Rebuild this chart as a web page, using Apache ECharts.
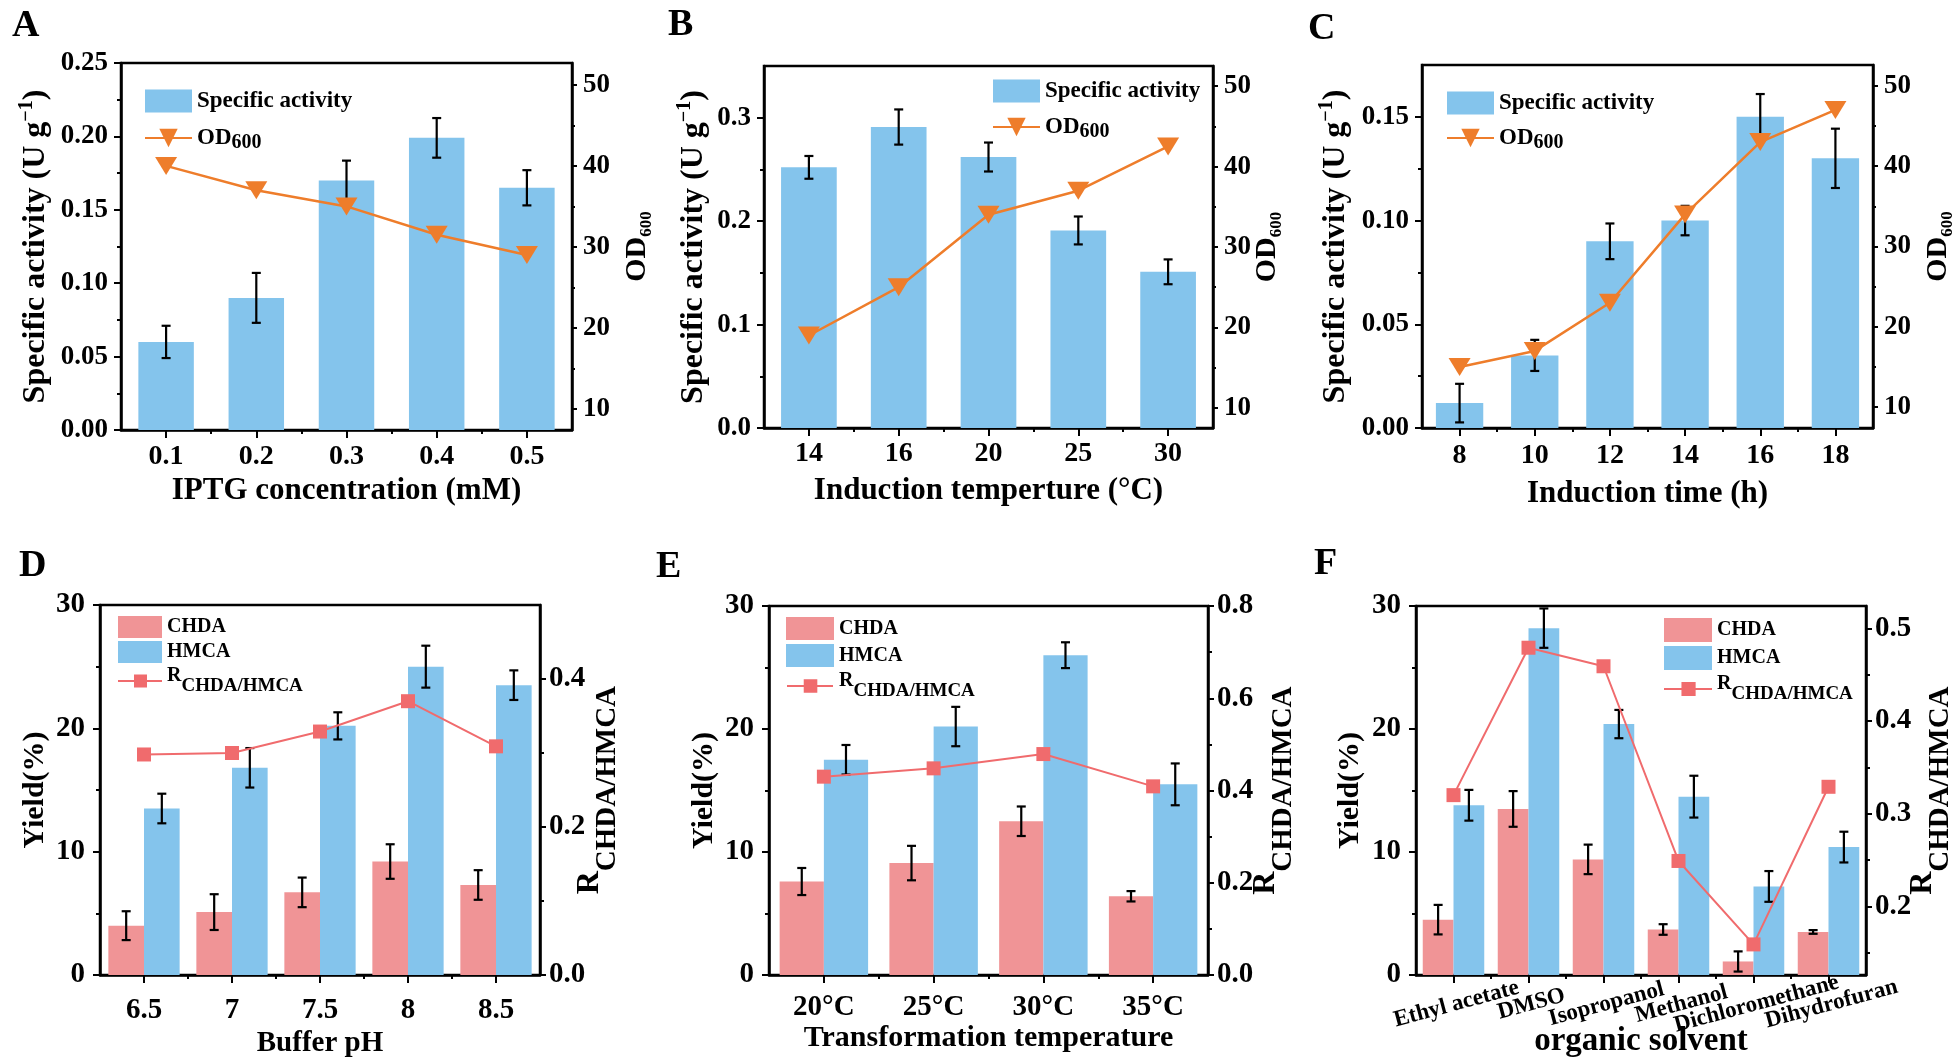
<!DOCTYPE html>
<html>
<head>
<meta charset="utf-8">
<script src="https://cdn.jsdelivr.net/npm/echarts@6/dist/echarts.min.js"></script>
<style>
  html, body { margin: 0; padding: 0; background: #fff; }
  #chart { width: 1959px; height: 1062px; }
</style>
</head>
<body>
<div id="chart"></div>
<script>
// ---- data ----
// A: IPTG concentration
const catsA = ['0.1', '0.2', '0.3', '0.4', '0.5'];
const actA = [0.060, 0.090, 0.170, 0.199, 0.165];
const actErrA = [0.011, 0.017, 0.0135, 0.0135, 0.012];
const odA = [40, 37, 35, 31.5, 29];
// B: induction temperature
const catsB = ['14', '16', '20', '25', '30'];
const actB = [0.252, 0.291, 0.262, 0.191, 0.151];
const actErrB = [0.011, 0.017, 0.014, 0.0135, 0.012];
const odB = [19, 25, 34, 37, 42.5];
// C: induction time
const catsC = ['8', '10', '12', '14', '16', '18'];
const actC = [0.012, 0.035, 0.090, 0.100, 0.150, 0.130];
const actErrC = [0.0093, 0.0075, 0.0086, 0.0071, 0.011, 0.0143];
const odC = [15, 17, 23, 34, 43, 47];
// D: buffer pH
const catsD = ['6.5', '7', '7.5', '8', '8.5'];
const chdaD = [4.0, 5.1, 6.7, 9.2, 7.3];
const chdaErrD = [1.17, 1.45, 1.2, 1.4, 1.2];
const hmcaD = [13.5, 16.8, 20.2, 25.0, 23.5];
const hmcaErrD = [1.2, 1.6, 1.1, 1.7, 1.2];
const ratioD = [0.298, 0.300, 0.329, 0.370, 0.309];
// E: transformation temperature
const catsE = ['20°C', '25°C', '30°C', '35°C'];
const chdaE = [7.6, 9.1, 12.5, 6.4];
const chdaErrE = [1.1, 1.4, 1.2, 0.42];
const hmcaE = [17.5, 20.2, 26.0, 15.5];
const hmcaErrE = [1.2, 1.6, 1.05, 1.7];
const ratioE = [0.430, 0.448, 0.479, 0.409];
// F: organic solvent
const catsF = ['Ethyl acetate', 'DMSO', 'Isopropanol', 'Methanol', 'Dichloromethane', 'Dihydrofuran'];
const chdaF = [4.5, 13.5, 9.4, 3.7, 1.1, 3.5];
const chdaErrF = [1.2, 1.45, 1.2, 0.43, 0.82, 0.15];
const hmcaF = [13.8, 28.2, 20.4, 14.5, 7.2, 10.4];
const hmcaErrF = [1.25, 1.6, 1.15, 1.7, 1.25, 1.25];
const ratioF = [0.320, 0.479, 0.459, 0.249, 0.159, 0.329];

// tick values
const ticksActA = [0, 0.05, 0.10, 0.15, 0.20, 0.25], minorActA = [0.025, 0.075, 0.125, 0.175, 0.225];
const ticksActB = [0, 0.1, 0.2, 0.3], minorActB = [0.05, 0.15, 0.25];
const ticksActC = [0, 0.05, 0.10, 0.15], minorActC = [0.025, 0.075, 0.125];
const ticksOD = [10, 20, 30, 40, 50], minorOD = [15, 25, 35, 45];
const ticksYield = [0, 10, 20, 30], minorYield = [5, 15, 25];
const ticksRD = [0, 0.2, 0.4], minorRD = [0.1, 0.3];
const ticksRE = [0, 0.2, 0.4, 0.6, 0.8], minorRE = [0.1, 0.3, 0.5, 0.7];
const ticksRF = [0.2, 0.3, 0.4, 0.5], minorRF = [0.15, 0.25, 0.35, 0.45];

const FONT = '"Liberation Serif", "Times New Roman", serif';
const TXT = { fontFamily: FONT, fontWeight: 'bold', color: '#000' };
const BLUE = '#84C4EC', PINK = '#F09496', ORANGE = '#EE7D2B', RED = '#F06B6D';
const AXLINE = { color: '#000', width: 2.5 };
const TICK = { color: '#000', width: 2 };

const grids = [], xAxes = [], yAxes = [], series = [], legends = [];

function addGrid(box) {
  grids.push({
    left: box[0], top: box[1], width: box[2], height: box[3],
    show: true, borderColor: '#000', borderWidth: 2.5, backgroundColor: 'rgba(0,0,0,0)',
    containLabel: false, outerBoundsMode: 'none'
  });
  return grids.length - 1;
}

function addCatAxis(g, cats, o) {
  xAxes.push({
    type: 'category', gridIndex: g, position: 'bottom', data: cats,
    axisLine: { show: true, onZero: false, lineStyle: AXLINE },
    axisTick: { show: true, alignWithLabel: true, interval: 0, length: 8, lineStyle: TICK },
    axisLabel: Object.assign({ interval: 0, margin: o.margin, fontSize: o.fontSize }, TXT, o.label || {}),
    splitLine: { show: false },
    name: o.name, nameLocation: 'middle', nameGap: o.nameGap, nameMoveOverlap: false,
    nameTextStyle: Object.assign({ fontSize: o.nameSize }, TXT)
  });
  const idx = xAxes.length - 1;
  // minor ticks at category boundaries
  const bounds = [];
  for (let i = 1; i < cats.length; i++) bounds.push(i);
  xAxes.push({
    type: 'value', gridIndex: g, position: 'bottom', min: 0, max: cats.length,
    axisLine: { show: false, onZero: false }, axisLabel: { show: false }, splitLine: { show: false },
    axisTick: { show: true, length: 4, customValues: bounds, lineStyle: TICK }
  });
  return idx;
}

function addValAxis(g, pos, o) {
  yAxes.push({
    type: 'value', gridIndex: g, position: pos, min: o.min, max: o.max,
    axisLine: { show: true, onZero: false, lineStyle: AXLINE },
    axisTick: { show: true, length: o.tick, customValues: o.major, lineStyle: TICK },
    axisLabel: Object.assign({ customValues: o.major, formatter: v => v.toFixed(o.dec), margin: o.margin, fontSize: o.fontSize }, TXT),
    splitLine: { show: false },
    name: o.name, nameLocation: 'middle', nameGap: o.nameGap, nameRotate: 90, nameMoveOverlap: false,
    nameTextStyle: Object.assign({ fontSize: 29, rich: o.rich }, TXT)
  });
  const idx = yAxes.length - 1;
  yAxes.push({
    type: 'value', gridIndex: g, position: pos, min: o.min, max: o.max,
    axisLine: { show: false, onZero: false }, axisLabel: { show: false }, splitLine: { show: false },
    axisTick: { show: true, length: Math.round(o.tick * 0.6), customValues: o.minor, lineStyle: TICK }
  });
  return idx;
}

// error bars drawn through the axes; k = bar index in group, n = bars per category
function addErr(xi, yi, vals, errs, frac, n, k) {
  series.push({
    type: 'custom', xAxisIndex: xi, yAxisIndex: yi, z: 5, silent: true,
    data: vals.map((v, i) => [i, v, errs[i]]),
    renderItem: function (params, api) {
      const i = api.value(0), v = api.value(1), e = api.value(2);
      const band = api.size([1, 0])[0];
      const bw = band * frac / n;
      const dx = (k - (n - 1) / 2) * bw;
      const hi = api.coord([i, v + e]), lo = api.coord([i, v - e]);
      const x = hi[0] + dx, cap = 4.5;
      const st = { stroke: '#000', lineWidth: 2.2 };
      return {
        type: 'group', children: [
          { type: 'line', shape: { x1: x, y1: hi[1], x2: x, y2: lo[1] }, style: st },
          { type: 'line', shape: { x1: x - cap, y1: hi[1], x2: x + cap, y2: hi[1] }, style: st },
          { type: 'line', shape: { x1: x - cap, y1: lo[1], x2: x + cap, y2: lo[1] }, style: st }
        ]
      };
    }
  });
}

const nameSA = '{a|Specific activity (U g}{s|−1}{a|)}';
const richSA = {
  a: Object.assign({ fontSize: 32, lineHeight: 38 }, TXT),
  s: Object.assign({ fontSize: 20, lineHeight: 20, verticalAlign: 'top' }, TXT)
};
const nameOD = '{a|OD}{b|600}';
const richOD = {
  a: Object.assign({ fontSize: 30, lineHeight: 36 }, TXT),
  b: Object.assign({ fontSize: 17, lineHeight: 20, verticalAlign: 'bottom' }, TXT)
};
// spacer token h makes the line tall enough for a real subscript drop
const nameR = '{a|R}{b|CHDA/HMCA}{h| }';
const richR = {
  a: Object.assign({ fontSize: 32, lineHeight: 30, verticalAlign: 'top' }, TXT),
  b: Object.assign({ fontSize: 29, lineHeight: 29, verticalAlign: 'bottom' }, TXT),
  h: { fontSize: 1, lineHeight: 48 }
};
const nameY = '{a|Yield(%)}';
const richY = { a: Object.assign({ fontSize: 30, lineHeight: 34 }, TXT) };

// ---- top row: specific activity + OD600 ----
function activityPanel(box, cats, act, err, od, o) {
  const g = addGrid(box);
  const xi = addCatAxis(g, cats, { name: o.xname, nameGap: o.xgap, nameSize: 31, margin: o.xmargin, fontSize: 28 });
  const yl = addValAxis(g, 'left', { min: 0, max: o.lmax, major: o.lticks, minor: o.lminor, dec: o.ldec, margin: 13, tick: 7, name: nameSA, rich: richSA, nameGap: o.lgap, fontSize: 27 });
  const yr = addValAxis(g, 'right', { min: o.rmin, max: o.rmax, major: ticksOD, minor: minorOD, dec: 0, margin: 11, tick: 5, name: nameOD, rich: richOD, nameGap: o.rgap, fontSize: 27 });
  series.push({
    type: 'bar', name: 'Specific activity', xAxisIndex: xi, yAxisIndex: yl, data: act,
    barCategoryGap: ((1 - o.frac) * 100) + '%', itemStyle: { color: BLUE }, z: 2
  });
  addErr(xi, yl, act, err, o.frac, 1, 0);
  series.push({
    type: 'line', name: 'OD600', xAxisIndex: xi, yAxisIndex: yr, data: od,
    symbol: 'triangle', symbolRotate: 180, symbolSize: [22, 18],
    lineStyle: { color: ORANGE, width: 2.5 }, itemStyle: { color: ORANGE }, z: 10
  });
}

// ---- bottom row: yields + ratio ----
function yieldPanel(box, cats, chda, chdaErr, hmca, hmcaErr, ratio, o) {
  const g = addGrid(box);
  const xi = addCatAxis(g, cats, { name: o.xname, nameGap: o.xgap, nameSize: o.xns, margin: o.xmargin, fontSize: o.xfs || 29, label: o.xlabel });
  const yl = addValAxis(g, 'left', { min: 0, max: 30, major: ticksYield, minor: minorYield, dec: 0, margin: 15, tick: 7, name: nameY, rich: richY, nameGap: o.lgap, fontSize: 29 });
  const yr = addValAxis(g, 'right', { min: o.rmin, max: o.rmax, major: o.rticks, minor: o.rminor, dec: 1, margin: 9, tick: 6, name: nameR, rich: richR, nameGap: o.rgap, fontSize: 29 });
  const gap = ((1 - o.frac) * 100) + '%';
  series.push({ type: 'bar', name: 'CHDA', xAxisIndex: xi, yAxisIndex: yl, data: chda, barGap: '0%', barCategoryGap: gap, itemStyle: { color: PINK }, z: 2 });
  series.push({ type: 'bar', name: 'HMCA', xAxisIndex: xi, yAxisIndex: yl, data: hmca, barGap: '0%', barCategoryGap: gap, itemStyle: { color: BLUE }, z: 2 });
  addErr(xi, yl, chda, chdaErr, o.frac, 2, 0);
  addErr(xi, yl, hmca, hmcaErr, o.frac, 2, 1);
  series.push({
    type: 'line', name: 'RCHDA/HMCA', xAxisIndex: xi, yAxisIndex: yr, data: ratio,
    symbol: 'rect', symbolSize: 14,
    lineStyle: { color: RED, width: 2 }, itemStyle: { color: RED }, z: 10
  });
}

activityPanel([121, 63, 451, 367], catsA, actA, actErrA, odA, {
  xname: 'IPTG concentration (mM)', xgap: 45, xmargin: 13, lmax: 0.25, lticks: ticksActA, lminor: minorActA, ldec: 2,
  lgap: 66, rmin: 7.4, rmax: 52.7, rgap: 47, frac: 0.615
});
activityPanel([764, 66, 449, 362], catsB, actB, actErrB, odB, {
  xname: 'Induction temperture (°C)', xgap: 47, xmargin: 12, lmax: 0.35, lticks: ticksActB, lminor: minorActB, ldec: 1,
  lgap: 51, rmin: 7.5, rmax: 52.5, rgap: 36, frac: 0.62
});
activityPanel([1422, 65, 451, 363], catsC, actC, actErrC, odC, {
  xname: 'Induction time (h)', xgap: 50, xmargin: 14, lmax: 0.175, lticks: ticksActC, lminor: minorActC, ldec: 2,
  lgap: 67, rmin: 7.4, rmax: 52.6, rgap: 47, frac: 0.63
});
yieldPanel([100, 605, 440, 370], catsD, chdaD, chdaErrD, hmcaD, hmcaErrD, ratioD, {
  xname: 'Buffer pH', xgap: 54, xns: 29, xmargin: 21, lgap: 48, rmin: 0, rmax: 0.5, rticks: ticksRD, rminor: minorRD, rgap: 34, frac: 0.81
});
yieldPanel([769, 606, 439, 369], catsE, chdaE, chdaErrE, hmcaE, hmcaErrE, ratioE, {
  xname: 'Transformation temperature', xgap: 48, xns: 30, xmargin: 18, lgap: 48, rmin: 0, rmax: 0.8, rticks: ticksRE, rminor: minorRE, rgap: 42, frac: 0.806
});
yieldPanel([1416, 606, 450, 369], catsF, chdaF, chdaErrF, hmcaF, hmcaErrF, ratioF, {
  xname: 'organic solvent', xgap: 50, xns: 33, xmargin: 18, xfs: 23, xlabel: { rotate: 15, align: 'center', verticalAlign: 'top' },
  lgap: 49, rmin: 0.126, rmax: 0.524, rticks: ticksRF, rminor: minorRF, rgap: 41, frac: 0.82
});

// ---- legends ----
const iconR = 'path://M0,0h0.1v0.1h-0.1zM0,10h44v2h-44zM16,4.5h13v13h-13zM0,21.9h0.1v0.1h-0.1z';
function legendFmt(name) {
  if (name === 'OD600') return '{a|OD}{b|600}';
  if (name === 'RCHDA/HMCA') return '{r|R}{s|CHDA/HMCA}{h| }';
  return name;
}
const richLegTop = {
  a: Object.assign({ fontSize: 23, lineHeight: 30 }, TXT),
  b: Object.assign({ fontSize: 20, lineHeight: 20, verticalAlign: 'bottom' }, TXT)
};
const richLegBot = {
  r: Object.assign({ fontSize: 20, lineHeight: 20, verticalAlign: 'top' }, TXT),
  s: Object.assign({ fontSize: 19, lineHeight: 19, verticalAlign: 'bottom' }, TXT),
  h: { fontSize: 1, lineHeight: 30 }
};
function addLegendTop(left, top, gap) {
  legends.push({
    left: left, top: top, orient: 'vertical', itemWidth: 47, itemHeight: 23, itemGap: gap, padding: 0,
    selectedMode: false, formatter: legendFmt,
    data: [{ name: 'Specific activity', icon: 'rect' }, { name: 'OD600' }],
    textStyle: Object.assign({ fontSize: 23, lineHeight: 26, rich: richLegTop }, TXT)
  });
}
function addLegendBot(left, top, w, h, gap) {
  legends.push({
    left: left, top: top, orient: 'vertical', itemWidth: w, itemHeight: h, itemGap: gap, padding: 0,
    selectedMode: false, formatter: legendFmt,
    data: [{ name: 'CHDA', icon: 'rect' }, { name: 'HMCA', icon: 'rect' }, { name: 'RCHDA/HMCA', icon: iconR }],
    textStyle: Object.assign({ fontSize: 20, lineHeight: 22, rich: richLegBot }, TXT)
  });
}
addLegendTop(144, 88, 9);
addLegendTop(992, 78, 8);
addLegendTop(1446, 90, 7);
addLegendBot(118, 616, 44, 22, 3);
addLegendBot(786, 617, 48, 23, 4);
addLegendBot(1664, 618, 48, 24, 4);

// ---- panel letters ----
const letters = [['A', 12, 7], ['B', 668, 6], ['C', 1308, 10], ['D', 19, 547], ['E', 656, 548], ['F', 1314, 545]];
const graphic = letters.map(l => ({
  type: 'text', left: l[1], top: l[2],
  style: { text: l[0], font: 'bold 38px ' + FONT, fill: '#000' }
}));

const myChart = echarts.init(document.getElementById('chart'), null, { renderer: 'canvas' });
myChart.setOption({
  animation: false,
  backgroundColor: '#fff',
  grid: grids,
  xAxis: xAxes,
  yAxis: yAxes,
  legend: legends,
  graphic: graphic,
  series: series
});
</script>
</body>
</html>
